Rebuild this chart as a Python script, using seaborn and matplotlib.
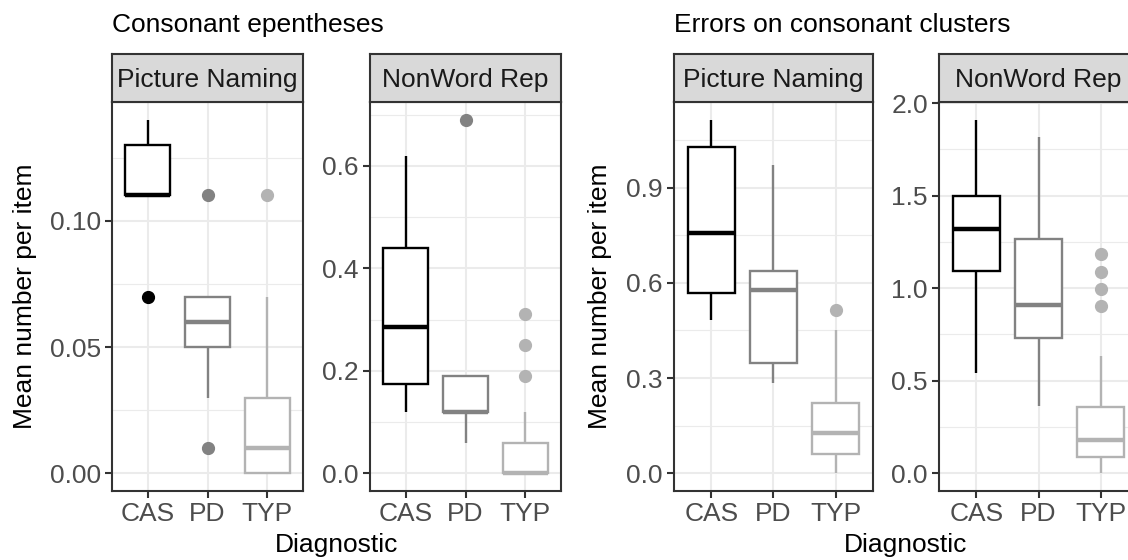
import matplotlib
matplotlib.use("Agg")
import matplotlib.pyplot as plt
import seaborn as sns

# Diagnostic groups and tasks
groups = ["CAS", "PD", "TYP"]
tasks = ["Picture Naming", "NonWord Rep"]
group_colours = ["#000000", "#828282", "#B3B3B3"]

# Consonant epentheses - Picture Naming (box summaries)
epen_pn_whislo = [0.11, 0.03, 0.00]
epen_pn_q1 = [0.11, 0.05, 0.00]
epen_pn_med = [0.11, 0.06, 0.01]
epen_pn_q3 = [0.13, 0.07, 0.03]
epen_pn_whishi = [0.14, 0.07, 0.07]
epen_pn_fliers = [[0.07], [0.01, 0.11], [0.11]]

# Consonant epentheses - NonWord Rep
epen_nw_whislo = [0.12, 0.06, 0.00]
epen_nw_q1 = [0.174, 0.12, 0.00]
epen_nw_med = [0.285, 0.12, 0.00]
epen_nw_q3 = [0.44, 0.19, 0.06]
epen_nw_whishi = [0.62, 0.19, 0.12]
epen_nw_fliers = [[], [0.69], [0.19, 0.25, 0.31]]

# Errors on consonant clusters - Picture Naming
clust_pn_whislo = [0.483, 0.285, 0.00]
clust_pn_q1 = [0.569, 0.346, 0.062]
clust_pn_med = [0.758, 0.576, 0.128]
clust_pn_q3 = [1.028, 0.638, 0.221]
clust_pn_whishi = [1.114, 0.971, 0.451]
clust_pn_fliers = [[], [], [0.513]]

# Errors on consonant clusters - NonWord Rep
clust_nw_whislo = [0.544, 0.364, 0.00]
clust_nw_q1 = [1.092, 0.732, 0.09]
clust_nw_med = [1.319, 0.908, 0.18]
clust_nw_q3 = [1.50, 1.268, 0.36]
clust_nw_whishi = [1.91, 1.814, 0.634]
clust_nw_fliers = [[], [], [0.906, 0.998, 1.09, 1.184]]

sns.set_theme(style="white")
plt.rcParams["font.family"] = ["Liberation Sans", "DejaVu Sans"]

W, H = 1128, 560
FS = 19
fig = plt.figure(figsize=(W / 100, H / 100), dpi=100)
fig.patch.set_facecolor("white")

PANEL_TOP, PANEL_BOTTOM = 102, 491
STRIP_TOP = 54


def panel_axes(left, right):
    ax = fig.add_axes([left / W, 1 - PANEL_BOTTOM / H, (right - left) / W,
                       (PANEL_BOTTOM - PANEL_TOP) / H])
    strip = fig.add_axes([left / W, 1 - PANEL_TOP / H, (right - left) / W,
                          (PANEL_TOP - STRIP_TOP) / H])
    return ax, strip


def draw_panel(ax, strip, title, whislo, q1, med, q3, whishi, fliers,
               ticks, labels, minor):
    stats = [dict(whislo=a, q1=b, med=c, q3=d, whishi=e, fliers=f)
             for a, b, c, d, e, f in zip(whislo, q1, med, q3, whishi, fliers)]
    parts = ax.bxp(stats, positions=range(len(groups)), widths=0.75,
                   patch_artist=True, showcaps=False, zorder=3)
    for i, colour in enumerate(group_colours):
        parts["boxes"][i].set(facecolor="white", edgecolor=colour, linewidth=1.7)
        parts["medians"][i].set(color=colour, linewidth=3.2, solid_capstyle="butt")
        for w in parts["whiskers"][2 * i:2 * i + 2]:
            w.set(color=colour, linewidth=1.7, solid_capstyle="butt")
        parts["fliers"][i].set(marker="o", markerfacecolor=colour,
                               markeredgecolor=colour, markersize=8.5,
                               linestyle="none")

    values = whislo + whishi + [v for f in fliers for v in f]
    lo, hi = min(values), max(values)
    pad = 0.05 * (hi - lo)
    ax.set_ylim(lo - pad, hi + pad)
    ax.set_xlim(-0.6, len(groups) - 0.4)
    ax.set_xticks(range(len(groups)))
    ax.set_xticklabels(groups)
    ax.set_yticks(ticks)
    ax.set_yticklabels(labels)
    ax.set_yticks(minor, minor=True)

    ax.set_facecolor("white")
    ax.set_axisbelow(True)
    ax.grid(which="major", color="#EBEBEB", linewidth=1.5)
    ax.grid(which="minor", axis="y", color="#EBEBEB", linewidth=0.8)
    for sp in ax.spines.values():
        sp.set_visible(True)
        sp.set_color("#333333")
        sp.set_linewidth(1.5)
    ax.tick_params(which="major", length=5, width=1.5, color="#333333",
                   labelsize=FS, labelcolor="#4D4D4D", pad=3,
                   left=True, bottom=True)
    ax.tick_params(which="minor", length=0)
    ax.set_xlabel("")
    ax.set_ylabel("")

    strip.set_facecolor("#D9D9D9")
    strip.set_xticks([])
    strip.set_yticks([])
    for sp in strip.spines.values():
        sp.set_visible(True)
        sp.set_color("#333333")
        sp.set_linewidth(1.5)
    strip.text(0.5, 0.32, title, transform=strip.transAxes, ha="center",
               va="baseline", fontsize=FS, color="#1A1A1A")


# Consonant epentheses
ax1, st1 = panel_axes(112, 303)
draw_panel(ax1, st1, tasks[0], epen_pn_whislo, epen_pn_q1, epen_pn_med,
           epen_pn_q3, epen_pn_whishi, epen_pn_fliers,
           [0.0, 0.05, 0.10], ["0.00", "0.05", "0.10"], [0.025, 0.075, 0.125])
ax2, st2 = panel_axes(370, 561)
draw_panel(ax2, st2, tasks[1], epen_nw_whislo, epen_nw_q1, epen_nw_med,
           epen_nw_q3, epen_nw_whishi, epen_nw_fliers,
           [0.0, 0.2, 0.4, 0.6], ["0.0", "0.2", "0.4", "0.6"], [0.1, 0.3, 0.5, 0.7])

# Errors on consonant clusters
ax3, st3 = panel_axes(674, 873)
draw_panel(ax3, st3, tasks[0], clust_pn_whislo, clust_pn_q1, clust_pn_med,
           clust_pn_q3, clust_pn_whishi, clust_pn_fliers,
           [0.0, 0.3, 0.6, 0.9], ["0.0", "0.3", "0.6", "0.9"], [0.15, 0.45, 0.75, 1.05])
ax4, st4 = panel_axes(939, 1138)
draw_panel(ax4, st4, tasks[1], clust_nw_whislo, clust_nw_q1, clust_nw_med,
           clust_nw_q3, clust_nw_whishi, clust_nw_fliers,
           [0.0, 0.5, 1.0, 1.5, 2.0], ["0.0", "0.5", "1.0", "1.5", "2.0"],
           [0.25, 0.75, 1.25, 1.75])

# Titles and axis titles
mid_y = 1 - (PANEL_TOP + PANEL_BOTTOM) / 2 / H
fig.text(112 / W, 1 - 32 / H, "Consonant epentheses", ha="left",
         va="baseline", fontsize=FS, color="black")
fig.text(674 / W, 1 - 32 / H, "Errors on consonant clusters", ha="left",
         va="baseline", fontsize=FS, color="black")
fig.text(25 / W, mid_y, "Mean number per item", rotation=90, ha="center",
         va="center", fontsize=FS, color="black")
fig.text(600 / W, mid_y, "Mean number per item", rotation=90, ha="center",
         va="center", fontsize=FS, color="black")
fig.text((112 + 561) / 2 / W, 1 - 552 / H, "Diagnostic", ha="center",
         va="baseline", fontsize=FS, color="black")
fig.text((674 + 1138) / 2 / W, 1 - 552 / H, "Diagnostic", ha="center",
         va="baseline", fontsize=FS, color="black")

fig.savefig("out.png", dpi=100, facecolor="white")
